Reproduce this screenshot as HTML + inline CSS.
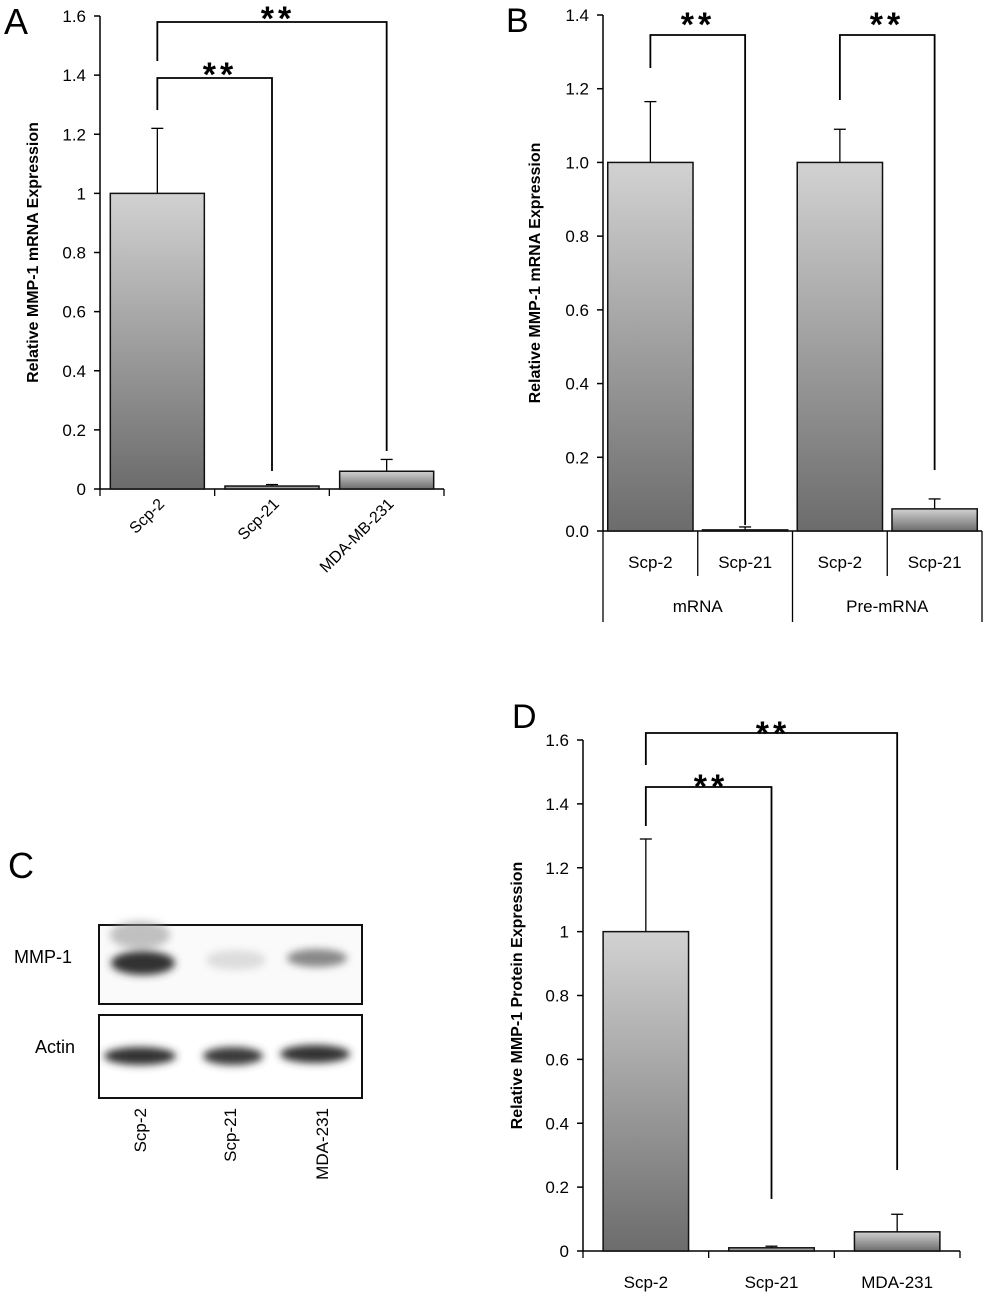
<!DOCTYPE html>
<html><head><meta charset="utf-8">
<style>
body{margin:0;background:#fff;}
svg{display:block;font-family:"Liberation Sans",sans-serif;}
</style></head>
<body>
<svg id="fig" width="1000" height="1293" viewBox="0 0 1000 1293" xmlns="http://www.w3.org/2000/svg">
<defs>
<linearGradient id="g" x1="0" y1="0" x2="0" y2="1">
<stop offset="0" stop-color="#d2d2d2"/><stop offset="1" stop-color="#6c6c6c"/></linearGradient>
<filter id="blur" x="-20%" y="-50%" width="140%" height="200%"><feGaussianBlur stdDeviation="4"/></filter>
</defs>
<text x="4" y="34" font-size="36">A</text>
<text x="506" y="32" font-size="34">B</text>
<text x="8" y="878" font-size="36">C</text>
<text x="512" y="728" font-size="34">D</text>
<g id="A"></g>
<g id="B"></g>
<g id="D"></g>
<g id="C">
 <rect x="99" y="925" width="263" height="79" fill="#fafafa" stroke="#111" stroke-width="2"/>
 <g filter="url(#blur)">
  <ellipse cx="140" cy="935" rx="30" ry="14" fill="#999" opacity="0.6"/>
  <ellipse cx="143" cy="963" rx="32" ry="12" fill="#333"/>
  <ellipse cx="236" cy="960" rx="30" ry="10" fill="#ddd"/>
  <ellipse cx="317" cy="958" rx="30" ry="9" fill="#888"/>
 </g>
 <rect x="99" y="1015" width="263" height="83" fill="#fff" stroke="#111" stroke-width="2"/>
 <g filter="url(#blur)">
  <ellipse cx="140" cy="1056" rx="36" ry="9" fill="#333"/>
  <ellipse cx="233" cy="1056" rx="30" ry="9" fill="#3a3a3a"/>
  <ellipse cx="315" cy="1054" rx="35" ry="9" fill="#333"/>
 </g>
 <text x="14" y="963" font-size="18">MMP-1</text>
 <text x="35" y="1053" font-size="18">Actin</text>
 <text transform="translate(146,1108) rotate(-90)" text-anchor="end" font-size="17">Scp-2</text>
 <text transform="translate(236,1108) rotate(-90)" text-anchor="end" font-size="17">Scp-21</text>
 <text transform="translate(328,1108) rotate(-90)" text-anchor="end" font-size="17">MDA-231</text>
</g>
</svg>
<script>
// Panel A data
const aCategories=["Scp-2","Scp-21","MDA-MB-231"];
const aValues=[1.0,0.01,0.06];
const aErrors=[0.22,0.005,0.04];
const aTicks=[0,0.2,0.4,0.6,0.8,1,1.2,1.4,1.6];
const aTickLabels=["0","0.2","0.4","0.6","0.8","1","1.2","1.4","1.6"];
// Panel B data
const bCategories=["Scp-2","Scp-21","Scp-2","Scp-21"];
const bGroups=["mRNA","Pre-mRNA"];
const bValues=[1.0,0.003,1.0,0.06];
const bErrors=[0.165,0.008,0.09,0.027];
const bTicks=[0,0.2,0.4,0.6,0.8,1.0,1.2,1.4];
const bTickLabels=["0.0","0.2","0.4","0.6","0.8","1.0","1.2","1.4"];
// Panel D data
const dCategories=["Scp-2","Scp-21","MDA-231"];
const dValues=[1.0,0.01,0.06];
const dErrors=[0.29,0.005,0.055];
const dTicks=[0,0.2,0.4,0.6,0.8,1,1.2,1.4,1.6];
const dTickLabels=["0","0.2","0.4","0.6","0.8","1","1.2","1.4","1.6"];

const NS="http://www.w3.org/2000/svg";
function mk(parent,tag,attrs,txt){const e=document.createElementNS(NS,tag);for(const k in attrs)e.setAttribute(k,attrs[k]);if(txt!==undefined)e.textContent=txt;parent.appendChild(e);return e;}

function chart(g,cfg){
  const y=v=>cfg.y0-(v-cfg.vmin)/(cfg.vmax-cfg.vmin)*(cfg.y0-cfg.y1);
  const n=cfg.values.length, step=(cfg.x1-cfg.x0)/n;
  const bx=i=>cfg.x0+step*i+step*cfg.pad;
  const bw=step*(1-2*cfg.pad);
  const cx=i=>cfg.x0+step*(i+0.5);
  const ax=mk(g,'line',{x1:cfg.x0,y1:cfg.y1,x2:cfg.x0,y2:cfg.y0,stroke:'#000','stroke-width':1.5});
  
  
  cfg.ticks.forEach((t,i)=>{
    mk(g,'line',{x1:cfg.x0-6,y1:y(t),x2:cfg.x0,y2:y(t),stroke:'#000','stroke-width':1.5});
    const tl=mk(g,'text',{x:cfg.x0-14,y:y(t)+6,'text-anchor':'end','font-size':17},cfg.tickLabels[i]);
    
    
  });
  const xa=mk(g,'line',{x1:cfg.x0,y1:cfg.y0,x2:cfg.x1,y2:cfg.y0,stroke:'#000','stroke-width':1.5});
  
  
  for(let i=0;i<=n;i++){mk(g,'line',{x1:cfg.x0+step*i,y1:cfg.y0,x2:cfg.x0+step*i,y2:cfg.y0+cfg.tickLen,stroke:'#000','stroke-width':1.3});}
  cfg.values.forEach((v,i)=>{
    const e=cfg.errors[i];
    mk(g,'line',{x1:cx(i),y1:y(v),x2:cx(i),y2:y(v+e),stroke:'#000','stroke-width':1.3});
    mk(g,'line',{x1:cx(i)-6,y1:y(v+e),x2:cx(i)+6,y2:y(v+e),stroke:'#000','stroke-width':1.3});
    const r=mk(g,'rect',{x:bx(i),y:y(v),width:bw,height:Math.max(cfg.y0-y(v),1),fill:'url(#g)',stroke:'#111','stroke-width':1.5});
    
    
  });
  const t=mk(g,'text',{transform:`translate(${cfg.titleX},${(cfg.y0+cfg.y1)/2}) rotate(-90)`,'text-anchor':'middle','font-size':16,'font-weight':'bold'},cfg.title);
  
  
  return {y,cx};
}

function bracket(g,xa,xb,yTop,ya,yb,sx,sy){
  mk(g,'polyline',{points:`${xa},${ya} ${xa},${yTop} ${xb},${yTop} ${xb},${yb}`,fill:'none',stroke:'#000','stroke-width':1.8});
  const s=mk(g,'text',{x:sx,y:sy,'text-anchor':'middle','font-size':34,'font-weight':'bold','letter-spacing':'4'},'**');
  
  
}

// A
const gA=document.getElementById('A');
const A=chart(gA,{x0:100,x1:444,y0:489,y1:16,vmin:0,vmax:1.6,values:aValues,errors:aErrors,categories:aCategories,ticks:aTicks,tickLabels:aTickLabels,pad:0.09,tickLen:7,title:'Relative MMP-1 mRNA Expression',titleX:38});
aCategories.forEach((c,i)=>{
  const t=mk(gA,'text',{transform:`translate(${A.cx(i)+8},${505}) rotate(-45)`,'text-anchor':'end','font-size':16},c);
  
  
});
bracket(gA,A.cx(0),A.cx(2),22,61,451,278,30);
bracket(gA,A.cx(0),A.cx(1),78,110,471,220,86);

// B
const gB=document.getElementById('B');
const B=chart(gB,{x0:603,x1:982,y0:531,y1:15,vmin:0,vmax:1.4,values:bValues,errors:bErrors,categories:bCategories,ticks:bTicks,tickLabels:bTickLabels,pad:0.05,tickLen:0,title:'Relative MMP-1  mRNA Expression',titleX:540});
const bstep=(982-603)/4;
[0,1,2,3,4].forEach(i=>{
  const x=603+bstep*i; const long=(i%2===0);
  mk(gB,'line',{x1:x,y1:531,x2:x,y2:long?622:576,stroke:'#000','stroke-width':1.3});
});
bCategories.forEach((c,i)=>{
  const t=mk(gB,'text',{x:B.cx(i),y:568,'text-anchor':'middle','font-size':17},c);
  
  
});
bGroups.forEach((c,i)=>{
  const t=mk(gB,'text',{x:603+bstep*(2*i+1),y:612,'text-anchor':'middle','font-size':17},c);
  
  
});
bracket(gB,B.cx(0),B.cx(1),35,68,525,698,36);
bracket(gB,B.cx(2),B.cx(3),35,100,470,887,36);

// D
const gD=document.getElementById('D');
const D=chart(gD,{x0:583,x1:960,y0:1251,y1:740,vmin:0,vmax:1.6,values:dValues,errors:dErrors,categories:dCategories,ticks:dTicks,tickLabels:dTickLabels,pad:0.16,tickLen:7,title:'Relative MMP-1 Protein Expression',titleX:522});
dCategories.forEach((c,i)=>{
  const t=mk(gD,'text',{x:D.cx(i),y:1288,'text-anchor':'middle','font-size':17},c);
  
  
});
bracket(gD,D.cx(0),D.cx(2),733,765,1170,773,745);
bracket(gD,D.cx(0),D.cx(1),787,826,1199,711,798);
</script>
</body></html>
